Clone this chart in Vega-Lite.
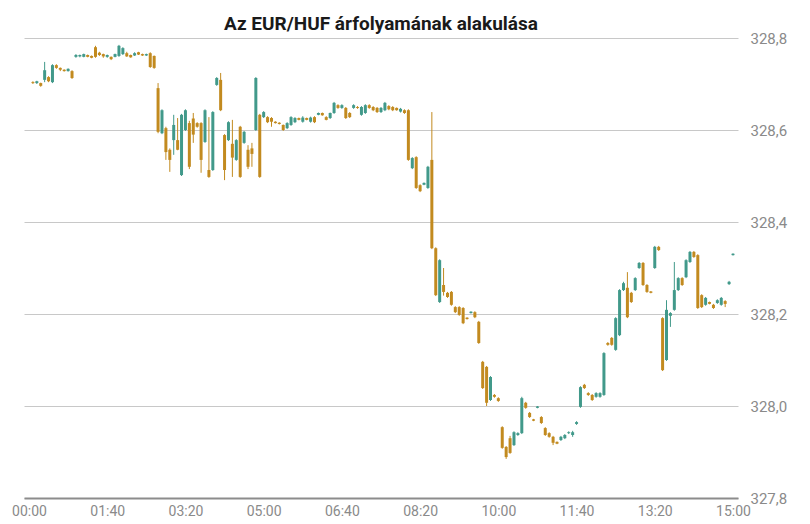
{
  "$schema": "https://vega.github.io/schema/vega-lite/v6.json",
  "width": 714,
  "height": 460,
  "autosize": "none",
  "padding": {"left": 24, "top": 38, "right": 72, "bottom": 26},
  "background": "#ffffff",
  "title": {
    "text": "Az EUR/HUF árfolyamának alakulása",
    "font": "Roboto",
    "fontSize": 19,
    "fontWeight": "bold",
    "color": "#1a1a1a",
    "anchor": "middle",
    "offset": -3
  },
  "data": {
    "values": [
      {"t": 5, "o": 328.704, "h": 328.706, "l": 328.700, "c": 328.702},
      {"t": 10, "o": 328.702, "h": 328.707, "l": 328.700, "c": 328.706},
      {"t": 15, "o": 328.702, "h": 328.703, "l": 328.694, "c": 328.696},
      {"t": 20, "o": 328.709, "h": 328.748, "l": 328.704, "c": 328.730},
      {"t": 25, "o": 328.715, "h": 328.717, "l": 328.704, "c": 328.706},
      {"t": 30, "o": 328.704, "h": 328.743, "l": 328.702, "c": 328.741},
      {"t": 35, "o": 328.741, "h": 328.743, "l": 328.733, "c": 328.735},
      {"t": 40, "o": 328.735, "h": 328.736, "l": 328.728, "c": 328.731},
      {"t": 45, "o": 328.731, "h": 328.732, "l": 328.727, "c": 328.728},
      {"t": 50, "o": 328.728, "h": 328.734, "l": 328.727, "c": 328.733},
      {"t": 55, "o": 328.728, "h": 328.730, "l": 328.711, "c": 328.713},
      {"t": 60, "o": 328.759, "h": 328.765, "l": 328.757, "c": 328.763},
      {"t": 65, "o": 328.760, "h": 328.764, "l": 328.758, "c": 328.763},
      {"t": 70, "o": 328.759, "h": 328.766, "l": 328.758, "c": 328.765},
      {"t": 75, "o": 328.763, "h": 328.764, "l": 328.758, "c": 328.759},
      {"t": 80, "o": 328.761, "h": 328.762, "l": 328.756, "c": 328.757},
      {"t": 85, "o": 328.780, "h": 328.783, "l": 328.757, "c": 328.759},
      {"t": 90, "o": 328.768, "h": 328.770, "l": 328.761, "c": 328.763},
      {"t": 95, "o": 328.765, "h": 328.766, "l": 328.757, "c": 328.760},
      {"t": 100, "o": 328.759, "h": 328.764, "l": 328.757, "c": 328.763},
      {"t": 105, "o": 328.759, "h": 328.760, "l": 328.752, "c": 328.754},
      {"t": 110, "o": 328.759, "h": 328.766, "l": 328.758, "c": 328.765},
      {"t": 115, "o": 328.761, "h": 328.785, "l": 328.759, "c": 328.783},
      {"t": 120, "o": 328.765, "h": 328.780, "l": 328.763, "c": 328.778},
      {"t": 125, "o": 328.767, "h": 328.770, "l": 328.759, "c": 328.760},
      {"t": 130, "o": 328.763, "h": 328.764, "l": 328.757, "c": 328.758},
      {"t": 135, "o": 328.762, "h": 328.769, "l": 328.761, "c": 328.767},
      {"t": 140, "o": 328.769, "h": 328.770, "l": 328.763, "c": 328.764},
      {"t": 145, "o": 328.765, "h": 328.766, "l": 328.761, "c": 328.762},
      {"t": 150, "o": 328.762, "h": 328.766, "l": 328.761, "c": 328.765},
      {"t": 155, "o": 328.767, "h": 328.769, "l": 328.735, "c": 328.737},
      {"t": 160, "o": 328.761, "h": 328.762, "l": 328.733, "c": 328.735},
      {"t": 165, "o": 328.691, "h": 328.702, "l": 328.593, "c": 328.596},
      {"t": 170, "o": 328.593, "h": 328.645, "l": 328.591, "c": 328.643},
      {"t": 175, "o": 328.604, "h": 328.607, "l": 328.535, "c": 328.552},
      {"t": 180, "o": 328.557, "h": 328.560, "l": 328.509, "c": 328.535},
      {"t": 185, "o": 328.578, "h": 328.633, "l": 328.546, "c": 328.611},
      {"t": 190, "o": 328.578, "h": 328.626, "l": 328.556, "c": 328.557},
      {"t": 195, "o": 328.502, "h": 328.635, "l": 328.500, "c": 328.633},
      {"t": 200, "o": 328.600, "h": 328.645, "l": 328.598, "c": 328.643},
      {"t": 205, "o": 328.615, "h": 328.620, "l": 328.515, "c": 328.520},
      {"t": 210, "o": 328.625, "h": 328.637, "l": 328.572, "c": 328.590},
      {"t": 215, "o": 328.615, "h": 328.617, "l": 328.605, "c": 328.607},
      {"t": 220, "o": 328.615, "h": 328.617, "l": 328.507, "c": 328.535},
      {"t": 225, "o": 328.574, "h": 328.645, "l": 328.572, "c": 328.643},
      {"t": 230, "o": 328.513, "h": 328.628, "l": 328.496, "c": 328.498},
      {"t": 235, "o": 328.513, "h": 328.641, "l": 328.511, "c": 328.639},
      {"t": 240, "o": 328.698, "h": 328.715, "l": 328.696, "c": 328.713},
      {"t": 245, "o": 328.709, "h": 328.724, "l": 328.641, "c": 328.643},
      {"t": 250, "o": 328.589, "h": 328.591, "l": 328.491, "c": 328.513},
      {"t": 255, "o": 328.578, "h": 328.619, "l": 328.576, "c": 328.617},
      {"t": 260, "o": 328.570, "h": 328.622, "l": 328.498, "c": 328.540},
      {"t": 265, "o": 328.535, "h": 328.580, "l": 328.533, "c": 328.578},
      {"t": 270, "o": 328.607, "h": 328.609, "l": 328.496, "c": 328.498},
      {"t": 275, "o": 328.572, "h": 328.598, "l": 328.570, "c": 328.596},
      {"t": 280, "o": 328.557, "h": 328.567, "l": 328.515, "c": 328.520},
      {"t": 285, "o": 328.560, "h": 328.572, "l": 328.520, "c": 328.548},
      {"t": 290, "o": 328.600, "h": 328.715, "l": 328.598, "c": 328.713},
      {"t": 295, "o": 328.633, "h": 328.635, "l": 328.496, "c": 328.498},
      {"t": 300, "o": 328.628, "h": 328.641, "l": 328.626, "c": 328.639},
      {"t": 305, "o": 328.628, "h": 328.630, "l": 328.615, "c": 328.617},
      {"t": 310, "o": 328.626, "h": 328.628, "l": 328.607, "c": 328.618},
      {"t": 315, "o": 328.618, "h": 328.619, "l": 328.614, "c": 328.615},
      {"t": 320, "o": 328.616, "h": 328.617, "l": 328.612, "c": 328.613},
      {"t": 325, "o": 328.611, "h": 328.612, "l": 328.598, "c": 328.600},
      {"t": 330, "o": 328.604, "h": 328.617, "l": 328.602, "c": 328.615},
      {"t": 335, "o": 328.611, "h": 328.630, "l": 328.609, "c": 328.628},
      {"t": 340, "o": 328.617, "h": 328.628, "l": 328.615, "c": 328.626},
      {"t": 345, "o": 328.626, "h": 328.627, "l": 328.621, "c": 328.622},
      {"t": 350, "o": 328.618, "h": 328.630, "l": 328.616, "c": 328.627},
      {"t": 355, "o": 328.626, "h": 328.627, "l": 328.621, "c": 328.622},
      {"t": 360, "o": 328.618, "h": 328.629, "l": 328.616, "c": 328.627},
      {"t": 365, "o": 328.628, "h": 328.630, "l": 328.615, "c": 328.617},
      {"t": 370, "o": 328.633, "h": 328.638, "l": 328.632, "c": 328.637},
      {"t": 375, "o": 328.637, "h": 328.638, "l": 328.631, "c": 328.632},
      {"t": 380, "o": 328.628, "h": 328.630, "l": 328.621, "c": 328.622},
      {"t": 385, "o": 328.626, "h": 328.638, "l": 328.624, "c": 328.637},
      {"t": 390, "o": 328.637, "h": 328.661, "l": 328.635, "c": 328.659},
      {"t": 395, "o": 328.654, "h": 328.656, "l": 328.646, "c": 328.648},
      {"t": 400, "o": 328.648, "h": 328.656, "l": 328.646, "c": 328.654},
      {"t": 405, "o": 328.648, "h": 328.650, "l": 328.624, "c": 328.626},
      {"t": 410, "o": 328.637, "h": 328.639, "l": 328.626, "c": 328.628},
      {"t": 415, "o": 328.648, "h": 328.656, "l": 328.646, "c": 328.654},
      {"t": 420, "o": 328.650, "h": 328.652, "l": 328.646, "c": 328.648},
      {"t": 425, "o": 328.633, "h": 328.652, "l": 328.631, "c": 328.650},
      {"t": 430, "o": 328.637, "h": 328.656, "l": 328.635, "c": 328.654},
      {"t": 435, "o": 328.654, "h": 328.656, "l": 328.646, "c": 328.648},
      {"t": 440, "o": 328.650, "h": 328.652, "l": 328.641, "c": 328.643},
      {"t": 445, "o": 328.648, "h": 328.650, "l": 328.637, "c": 328.639},
      {"t": 450, "o": 328.639, "h": 328.650, "l": 328.637, "c": 328.648},
      {"t": 455, "o": 328.643, "h": 328.661, "l": 328.641, "c": 328.659},
      {"t": 460, "o": 328.652, "h": 328.654, "l": 328.643, "c": 328.645},
      {"t": 465, "o": 328.650, "h": 328.652, "l": 328.641, "c": 328.643},
      {"t": 470, "o": 328.648, "h": 328.649, "l": 328.642, "c": 328.643},
      {"t": 475, "o": 328.640, "h": 328.648, "l": 328.638, "c": 328.646},
      {"t": 480, "o": 328.643, "h": 328.645, "l": 328.635, "c": 328.637},
      {"t": 485, "o": 328.643, "h": 328.645, "l": 328.533, "c": 328.535},
      {"t": 490, "o": 328.517, "h": 328.541, "l": 328.515, "c": 328.539},
      {"t": 495, "o": 328.541, "h": 328.543, "l": 328.472, "c": 328.474},
      {"t": 500, "o": 328.480, "h": 328.482, "l": 328.465, "c": 328.467},
      {"t": 505, "o": 328.481, "h": 328.486, "l": 328.480, "c": 328.485},
      {"t": 510, "o": 328.474, "h": 328.522, "l": 328.472, "c": 328.520},
      {"t": 515, "o": 328.535, "h": 328.639, "l": 328.341, "c": 328.343},
      {"t": 520, "o": 328.343, "h": 328.345, "l": 328.239, "c": 328.241},
      {"t": 525, "o": 328.226, "h": 328.319, "l": 328.224, "c": 328.317},
      {"t": 530, "o": 328.263, "h": 328.300, "l": 328.240, "c": 328.248},
      {"t": 535, "o": 328.246, "h": 328.248, "l": 328.235, "c": 328.237},
      {"t": 540, "o": 328.248, "h": 328.250, "l": 328.218, "c": 328.220},
      {"t": 545, "o": 328.215, "h": 328.217, "l": 328.202, "c": 328.204},
      {"t": 550, "o": 328.215, "h": 328.217, "l": 328.196, "c": 328.198},
      {"t": 555, "o": 328.213, "h": 328.215, "l": 328.178, "c": 328.180},
      {"t": 560, "o": 328.192, "h": 328.193, "l": 328.188, "c": 328.189},
      {"t": 565, "o": 328.202, "h": 328.206, "l": 328.201, "c": 328.205},
      {"t": 570, "o": 328.204, "h": 328.206, "l": 328.191, "c": 328.193},
      {"t": 575, "o": 328.183, "h": 328.185, "l": 328.135, "c": 328.137},
      {"t": 580, "o": 328.096, "h": 328.098, "l": 328.037, "c": 328.039},
      {"t": 585, "o": 328.085, "h": 328.087, "l": 328.000, "c": 328.007},
      {"t": 590, "o": 328.013, "h": 328.065, "l": 328.011, "c": 328.063},
      {"t": 595, "o": 328.024, "h": 328.026, "l": 328.018, "c": 328.020},
      {"t": 600, "o": 328.017, "h": 328.019, "l": 328.009, "c": 328.011},
      {"t": 605, "o": 327.954, "h": 327.956, "l": 327.907, "c": 327.909},
      {"t": 610, "o": 327.911, "h": 327.913, "l": 327.885, "c": 327.889},
      {"t": 615, "o": 327.930, "h": 327.935, "l": 327.896, "c": 327.898},
      {"t": 620, "o": 327.915, "h": 327.945, "l": 327.913, "c": 327.943},
      {"t": 625, "o": 327.937, "h": 327.943, "l": 327.935, "c": 327.941},
      {"t": 630, "o": 327.941, "h": 328.020, "l": 327.939, "c": 328.017},
      {"t": 635, "o": 328.007, "h": 328.009, "l": 327.994, "c": 327.996},
      {"t": 640, "o": 327.985, "h": 327.987, "l": 327.974, "c": 327.976},
      {"t": 645, "o": 327.971, "h": 327.972, "l": 327.967, "c": 327.968},
      {"t": 650, "o": 327.996, "h": 328.000, "l": 327.995, "c": 327.999},
      {"t": 655, "o": 327.976, "h": 327.978, "l": 327.961, "c": 327.963},
      {"t": 660, "o": 327.952, "h": 327.954, "l": 327.935, "c": 327.937},
      {"t": 665, "o": 327.941, "h": 327.943, "l": 327.931, "c": 327.933},
      {"t": 670, "o": 327.933, "h": 327.935, "l": 327.915, "c": 327.920},
      {"t": 675, "o": 327.922, "h": 327.923, "l": 327.917, "c": 327.918},
      {"t": 680, "o": 327.926, "h": 327.935, "l": 327.924, "c": 327.933},
      {"t": 685, "o": 327.930, "h": 327.939, "l": 327.928, "c": 327.937},
      {"t": 690, "o": 327.941, "h": 327.945, "l": 327.939, "c": 327.943},
      {"t": 695, "o": 327.937, "h": 327.946, "l": 327.933, "c": 327.943},
      {"t": 700, "o": 327.961, "h": 327.967, "l": 327.959, "c": 327.965},
      {"t": 705, "o": 327.998, "h": 328.043, "l": 327.996, "c": 328.041},
      {"t": 710, "o": 328.046, "h": 328.048, "l": 328.037, "c": 328.039},
      {"t": 715, "o": 328.028, "h": 328.030, "l": 328.022, "c": 328.024},
      {"t": 720, "o": 328.024, "h": 328.026, "l": 328.011, "c": 328.013},
      {"t": 725, "o": 328.020, "h": 328.030, "l": 328.018, "c": 328.028},
      {"t": 730, "o": 328.020, "h": 328.030, "l": 328.018, "c": 328.028},
      {"t": 735, "o": 328.024, "h": 328.117, "l": 328.022, "c": 328.115},
      {"t": 740, "o": 328.137, "h": 328.139, "l": 328.131, "c": 328.133},
      {"t": 745, "o": 328.148, "h": 328.150, "l": 328.131, "c": 328.133},
      {"t": 750, "o": 328.122, "h": 328.193, "l": 328.120, "c": 328.191},
      {"t": 755, "o": 328.154, "h": 328.254, "l": 328.152, "c": 328.252},
      {"t": 760, "o": 328.252, "h": 328.270, "l": 328.250, "c": 328.267},
      {"t": 765, "o": 328.257, "h": 328.291, "l": 328.191, "c": 328.193},
      {"t": 770, "o": 328.246, "h": 328.248, "l": 328.224, "c": 328.226},
      {"t": 775, "o": 328.252, "h": 328.280, "l": 328.250, "c": 328.278},
      {"t": 780, "o": 328.300, "h": 328.313, "l": 328.298, "c": 328.311},
      {"t": 785, "o": 328.311, "h": 328.313, "l": 328.261, "c": 328.263},
      {"t": 790, "o": 328.263, "h": 328.265, "l": 328.246, "c": 328.248},
      {"t": 795, "o": 328.249, "h": 328.250, "l": 328.245, "c": 328.246},
      {"t": 800, "o": 328.300, "h": 328.348, "l": 328.298, "c": 328.346},
      {"t": 805, "o": 328.346, "h": 328.348, "l": 328.337, "c": 328.339},
      {"t": 810, "o": 328.191, "h": 328.193, "l": 328.076, "c": 328.078},
      {"t": 815, "o": 328.100, "h": 328.230, "l": 328.098, "c": 328.209},
      {"t": 820, "o": 328.196, "h": 328.204, "l": 328.172, "c": 328.202},
      {"t": 825, "o": 328.209, "h": 328.313, "l": 328.207, "c": 328.252},
      {"t": 830, "o": 328.252, "h": 328.280, "l": 328.250, "c": 328.278},
      {"t": 835, "o": 328.278, "h": 328.280, "l": 328.261, "c": 328.263},
      {"t": 840, "o": 328.280, "h": 328.319, "l": 328.278, "c": 328.317},
      {"t": 845, "o": 328.313, "h": 328.337, "l": 328.311, "c": 328.335},
      {"t": 850, "o": 328.335, "h": 328.337, "l": 328.322, "c": 328.324},
      {"t": 855, "o": 328.328, "h": 328.330, "l": 328.211, "c": 328.213},
      {"t": 860, "o": 328.241, "h": 328.243, "l": 328.213, "c": 328.215},
      {"t": 865, "o": 328.220, "h": 328.237, "l": 328.218, "c": 328.235},
      {"t": 870, "o": 328.226, "h": 328.227, "l": 328.221, "c": 328.222},
      {"t": 875, "o": 328.220, "h": 328.222, "l": 328.211, "c": 328.213},
      {"t": 880, "o": 328.224, "h": 328.232, "l": 328.222, "c": 328.230},
      {"t": 885, "o": 328.220, "h": 328.237, "l": 328.218, "c": 328.235},
      {"t": 890, "o": 328.228, "h": 328.230, "l": 328.215, "c": 328.222},
      {"t": 895, "o": 328.265, "h": 328.272, "l": 328.263, "c": 328.270},
      {"t": 900, "o": 328.328, "h": 328.332, "l": 328.327, "c": 328.331}
    ]
  },
  "encoding": {
    "x": {
      "field": "t",
      "type": "quantitative",
      "title": null,
      "scale": {"domain": [0, 900], "nice": false, "zero": false},
      "axis": {
        "values": [0, 100, 200, 300, 400, 500, 600, 700, 800, 900],
        "labelExpr": "timeFormat(datetime(2000, 0, 1, 0, datum.value), '%H:%M')",
        "grid": false,
        "ticks": false,
        "domainColor": "#8c8c8c",
        "domainWidth": 2,
        "labelColor": "#8a8a8a",
        "labelFont": "Roboto",
        "labelFontSize": 14,
        "labelPadding": 6,
        "labelFlush": false,
        "labelOverlap": false
      }
    },
    "color": {
      "condition": {"test": "datum.c >= datum.o", "value": "#41998a"},
      "value": "#c28a1f"
    }
  },
  "layer": [
    {
      "mark": {"type": "rule", "strokeWidth": 1},
      "encoding": {
        "y": {
          "field": "l",
          "type": "quantitative",
          "title": null,
          "scale": {"domain": [327.8, 328.8], "nice": false, "zero": false},
          "axis": {
            "orient": "right",
            "values": [327.8, 328.0, 328.2, 328.4, 328.6, 328.8],
            "labelExpr": "replace(format(datum.value, '.1f'), '.', ',')",
            "domain": false,
            "ticks": false,
            "gridColor": "#c8c8c8",
            "gridWidth": 1,
            "labelColor": "#8a8a8a",
            "labelFont": "Roboto",
            "labelFontSize": 15,
            "labelPadding": 12
          }
        },
        "y2": {"field": "h"}
      }
    },
    {
      "mark": {"type": "bar", "orient": "vertical", "size": 3},
      "encoding": {
        "y": {"field": "o", "type": "quantitative"},
        "y2": {"field": "c"}
      }
    }
  ],
  "config": {
    "view": {"stroke": null},
    "font": "Roboto"
  }
}
